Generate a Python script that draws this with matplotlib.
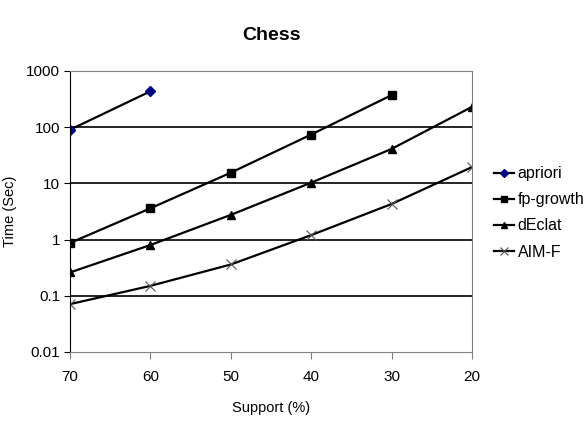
import numpy as np
import matplotlib.pyplot as plt
from matplotlib.ticker import FixedLocator, FixedFormatter, NullLocator

plt.rcParams['font.family'] = ['Liberation Sans', 'DejaVu Sans']

# Data
support = [70, 60, 50, 40, 30, 20]
apriori = [90, 435]
fp_growth = [0.87, 3.6, 15.5, 74, 372]
declat = [0.26, 0.80, 2.75, 10.3, 41, 230]
aim_f = [0.071, 0.15, 0.36, 1.2, 4.3, 19.5]
y_ticks = [0.01, 0.1, 1, 10, 100, 1000]
y_labels = ['0.01', '0.1', '1', '10', '100', '1000']

fig = plt.figure(figsize=(5.87, 4.21), dpi=100)
ax = fig.add_axes([0.1193, 0.164, 0.6848, 0.6674])

ax.plot(support[:len(apriori)], apriori, color='black', lw=1.6, marker='D',
        ms=5, mfc='#000080', mec='#000080', label='apriori')
ax.plot(support[:len(fp_growth)], fp_growth, color='black', lw=1.6, marker='s',
        ms=6, label='fp-growth')
ax.plot(support, declat, color='black', lw=1.6, marker='^', ms=6, label='dEclat')
ax.plot(support, aim_f, color='black', lw=1.6, marker='x', ms=7, mec='#555555',
        mew=0.8, label='AIM-F')

ax.set_yscale('log')
ax.set_ylim(0.01, 1000)
ax.set_xlim(70, 20)
ax.yaxis.set_major_locator(FixedLocator(y_ticks))
ax.yaxis.set_major_formatter(FixedFormatter(y_labels))
ax.yaxis.set_minor_locator(NullLocator())
ax.set_xticks(support)

for yt in y_ticks[1:-1]:
    ax.axhline(yt, color='black', lw=1.2, zorder=0)

ax.spines['left'].set_color('black')
for s in ['top', 'right', 'bottom']:
    ax.spines[s].set_color('#808080')
ax.tick_params(axis='y', length=4, color='black', labelsize=11, pad=3)
ax.tick_params(axis='x', length=5, color='#808080', labelsize=11, pad=8)

ax.set_title('Chess', fontsize=14, fontweight='bold', pad=22)
ax.set_xlabel('Support (%)', fontsize=10.5, labelpad=12)
ax.set_ylabel('Time (Sec)', fontsize=10.5, labelpad=7)

ax.legend(loc='center left', bbox_to_anchor=(1.04, 0.495), frameon=False,
          fontsize=11.5, handlelength=1.2, handletextpad=0.25, labelspacing=0.7,
          markerscale=0.8, borderaxespad=0)

fig.savefig('out.png', dpi=100)
